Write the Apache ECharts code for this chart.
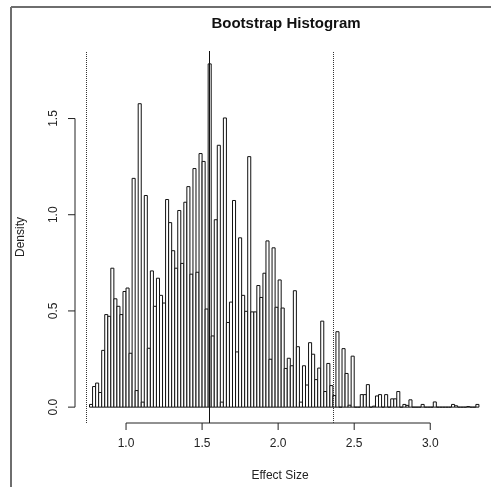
<!DOCTYPE html>
<html>
<head>
  <meta charset="utf-8">
  <script src="https://cdn.jsdelivr.net/npm/echarts@6.0.0/dist/echarts.min.js"></script>
  <style>
    html, body { margin: 0; padding: 0; background: #fff; }
    #chart { width: 491px; height: 487px; }
  </style>
</head>
<body>
  <div id="chart"></div>
  <script>
    // histogram bins: start, width and density of each bin
    var binStart = 0.76;
    var binWidth = 0.02;
    var density = [
      0.014, 0.107, 0.125, 0.076, 0.295, 0.481, 0.472, 0.722, 0.563, 0.524,
      0.481, 0.601, 0.619, 0.280, 1.189, 0.086, 1.577, 0.026, 1.100, 0.306,
      0.708, 0.524, 0.670, 0.581, 0.541, 1.079, 0.959, 0.813, 0.722, 1.022,
      0.747, 1.065, 1.146, 0.691, 1.240, 0.701, 1.318, 1.277, 0.510, 1.784,
      0.370, 0.974, 1.361, 0.026, 1.503, 0.440, 0.546, 1.074, 0.287, 0.880,
      0.581, 0.498, 1.302, 0.495, 0.495, 0.632, 0.570, 0.696, 0.864, 0.249,
      0.828, 0.519, 0.661, 0.515, 0.201, 0.254, 0.215, 0.605, 0.314, 0.026,
      0.215, 0.115, 0.335, 0.275, 0.143, 0.203, 0.447, 0.081, 0.227, 0.112,
      0.060, 0.392, 0.000, 0.304, 0.175, 0.010, 0.265, 0.000, 0.000, 0.065,
      0.065, 0.117, 0.000, 0.005, 0.058, 0.065, 0.000, 0.065, 0.000, 0.043,
      0.043, 0.081, 0.000, 0.014, 0.009, 0.038, 0.000, 0.000, 0.000, 0.014,
      0.000, 0.000, 0.000, 0.027, 0.000, 0.000, 0.000, 0.000, 0.000, 0.014,
      0.007, 0.000, 0.000, 0.000, 0.003, 0.000, 0.000, 0.014
    ];
    // reference lines
    var centreLine = 1.553;
    var ciLines = [0.741, 2.36];
    // tick labels
    var xTicks = [1.0, 1.5, 2.0, 2.5, 3.0];
    var yTicks = [0.0, 0.5, 1.0, 1.5];

    var xMin = 0.6645, xMax = 3.36;
    var yMin = -0.0825, yMax = 1.851;

    var bins = density.map(function (d, i) {
      var x0 = binStart + i * binWidth;
      return [x0, x0 + binWidth, d];
    });

    var chart = echarts.init(document.getElementById('chart'));
    var font = 'Liberation Sans, Arial, sans-serif';
    var ink = '#222';

    // R style ticks pointing outwards
    function tickItem(dim) {
      return function (params, api) {
        var v = api.value(0);
        var p = dim === 'x' ? api.coord([v, yMin]) : api.coord([xMin, v]);
        var q = dim === 'x' ? [p[0], p[1] + 7] : [p[0] - 7, p[1]];
        return {
          type: 'line',
          shape: { x1: p[0], y1: p[1], x2: q[0], y2: q[1] },
          style: { stroke: ink, lineWidth: 1 }
        };
      };
    }

    var option = {
      animation: false,
      backgroundColor: '#fff',
      title: {
        text: 'Bootstrap Histogram',
        left: 281,
        top: 11,
        textAlign: 'center',
        textStyle: { fontFamily: font, fontSize: 15, fontWeight: 'bold', color: '#111' }
      },
      grid: { left: 75, top: 51, right: 6, bottom: 61 },
      xAxis: {
        type: 'value',
        min: xMin,
        max: xMax,
        splitLine: { show: false },
        axisLine: { show: false },
        axisTick: { show: false },
        axisLabel: {
          customValues: xTicks,
          margin: 15,
          fontFamily: font,
          fontSize: 12,
          color: ink,
          formatter: function (v) { return v.toFixed(1); }
        },
        name: 'Effect Size',
        nameLocation: 'middle',
        nameGap: 47,
        nameTextStyle: { fontFamily: font, fontSize: 12, color: ink }
      },
      yAxis: {
        type: 'value',
        min: yMin,
        max: yMax,
        splitLine: { show: false },
        axisLine: { show: false },
        axisTick: { show: false },
        axisLabel: {
          customValues: yTicks,
          rotate: 90,
          margin: 15,
          fontFamily: font,
          fontSize: 12,
          color: ink,
          formatter: function (v) { return v.toFixed(1); }
        },
        name: 'Density',
        nameLocation: 'middle',
        nameRotate: 90,
        nameGap: 48,
        nameTextStyle: { fontFamily: font, fontSize: 12, color: ink }
      },
      graphic: [
        { type: 'line', shape: { x1: 11, y1: 7, x2: 491, y2: 7 }, style: { stroke: '#6e6e6e', lineWidth: 2 } },
        { type: 'line', shape: { x1: 11, y1: 7, x2: 11, y2: 487 }, style: { stroke: '#6e6e6e', lineWidth: 2 } }
      ],
      series: [
        {
          type: 'custom',
          data: bins,
          clip: false,
          renderItem: function (params, api) {
            var p0 = api.coord([api.value(0), api.value(2)]);
            var p1 = api.coord([api.value(1), 0]);
            return {
              type: 'rect',
              shape: { x: p0[0], y: p0[1], width: p1[0] - p0[0], height: p1[1] - p0[1] },
              style: { fill: '#fff', stroke: '#111', lineWidth: 1 }
            };
          },
          markLine: {
            silent: true,
            symbol: 'none',
            label: { show: false },
            data: [
              { xAxis: centreLine, lineStyle: { type: 'solid', color: '#111', width: 1 } },
              { xAxis: ciLines[0], lineStyle: { type: 'dotted', color: '#333', width: 1 } },
              { xAxis: ciLines[1], lineStyle: { type: 'dotted', color: '#333', width: 1 } }
            ]
          }
        },
        {
          type: 'custom',
          data: xTicks.map(function (v) { return [v]; }),
          clip: false,
          silent: true,
          renderItem: tickItem('x')
        },
        {
          type: 'custom',
          data: yTicks.map(function (v) { return [v]; }),
          clip: false,
          silent: true,
          renderItem: tickItem('y')
        },
        {
          // axis lines span the outer ticks only, as in base R
          type: 'line',
          data: [[xTicks[0], yMin], [xTicks[xTicks.length - 1], yMin]],
          symbol: 'none',
          clip: false,
          silent: true,
          lineStyle: { color: ink, width: 1 }
        },
        {
          type: 'line',
          data: [[xMin, yTicks[0]], [xMin, yTicks[yTicks.length - 1]]],
          symbol: 'none',
          clip: false,
          silent: true,
          lineStyle: { color: ink, width: 1 }
        }
      ]
    };

    chart.setOption(option);
  </script>
</body>
</html>
